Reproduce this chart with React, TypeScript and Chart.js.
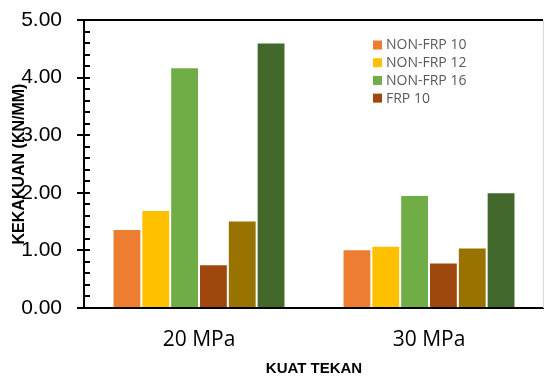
import React, { useEffect, useRef } from 'react';
import { Chart, registerables } from 'chart.js';

Chart.register(...registerables);

// ---- data ----
const categories = ['20 MPa', '30 MPa'];
const seriesNames = ['NON-FRP 10', 'NON-FRP 12', 'NON-FRP 16', 'FRP 10', 'FRP 12', 'FRP 16'];
const nonFrp10 = [1.37, 1.02];
const nonFrp12 = [1.70, 1.08];
const nonFrp16 = [4.18, 1.96];
const frp10 = [0.76, 0.79];
const frp12 = [1.52, 1.05];
const frp16 = [4.61, 2.01];
const legendShown = 4;
const yMin = 0;
const yMax = 5;
const yStep = 1;
const yMinorStep = 0.2;
const xTitle = 'KUAT TEKAN';
const yTitle = 'KEKAKUAN (KN/MM)';

// ---- styles ----
const colors = ['#ED7D31', '#FFC000', '#70AD47', '#9E480E', '#997300', '#43682B'];

const decorPlugin = {
  id: 'decor',
  afterDraw(chart: any) {
    const { ctx, chartArea } = chart;
    const y = chart.scales.y;
    ctx.save();
    // inner ticks (major + minor)
    ctx.strokeStyle = '#000';
    ctx.lineWidth = 2;
    const n = Math.round((yMax - yMin) / yMinorStep);
    for (let i = 0; i <= n; i++) {
      const v = yMin + i * yMinorStep;
      const py = Math.round(y.getPixelForValue(v));
      ctx.beginPath();
      ctx.moveTo(chartArea.left, py);
      ctx.lineTo(chartArea.left + 6, py);
      ctx.stroke();
    }
    // top border
    ctx.beginPath();
    ctx.moveTo(chartArea.left, chartArea.top);
    ctx.lineTo(chartArea.right - 1, chartArea.top);
    ctx.stroke();
    // right border (light)
    ctx.strokeStyle = '#d9d9d9';
    ctx.lineWidth = 1;
    ctx.beginPath();
    ctx.moveTo(chartArea.right - 0.5, chartArea.top);
    ctx.lineTo(chartArea.right - 0.5, chartArea.bottom);
    ctx.stroke();
    // legend
    ctx.font = '14px "Open Sans"';
    ctx.textBaseline = 'middle';
    ctx.textAlign = 'left';
    const ds = chart.data.datasets;
    for (let i = 0; i < Math.min(legendShown, ds.length); i++) {
      const cy = 45 + i * 17.7;
      ctx.fillStyle = ds[i].backgroundColor;
      ctx.fillRect(373, cy - 4.5, 9, 9);
      ctx.fillStyle = '#595959';
      ctx.fillText(ds[i].label, 386, cy + 0.5);
    }
    ctx.restore();
  },
};

export default function App() {
  const ref = useRef<HTMLCanvasElement | null>(null);
  useEffect(() => {
    if (!ref.current) return;
    const series = [nonFrp10, nonFrp12, nonFrp16, frp10, frp12, frp16];
    const chart = new Chart(ref.current, {
      type: 'bar',
      data: {
        labels: categories,
        datasets: series.map((d, i) => ({
          label: seriesNames[i],
          data: d,
          backgroundColor: colors[i],
          borderColor: 'rgba(255,255,255,0.45)',
          borderWidth: { top: 1, left: 1, right: 1, bottom: 0 },
          categoryPercentage: 0.752,
          barPercentage: 1,
        })),
      },
      options: {
        responsive: false,
        animation: false,
        layout: { padding: { top: 20, right: 0, left: 0, bottom: 0 } },
        plugins: { legend: { display: false }, tooltip: { enabled: false } },
        scales: {
          x: {
            grid: { display: false, drawTicks: false },
            border: { display: true, color: '#000', width: 2 },
            ticks: {
              color: '#000',
              padding: 19,
              font: { family: '"Open Sans"', size: 21 },
            },
            title: {
              display: true,
              text: xTitle,
              color: '#000',
              font: { family: '"Liberation Sans"', size: 15, weight: 'bold' },
              padding: { top: 0, bottom: 0 },
            },
            afterFit(scale: any) {
              scale.height = 70;
              scale.paddingLeft = 0;
              scale.paddingRight = 0;
            },
          },
          y: {
            min: yMin,
            max: yMax,
            grid: {
              display: true,
              drawOnChartArea: false,
              drawTicks: true,
              tickLength: 7,
              color: '#000',
              lineWidth: 2,
            },
            border: { display: true, color: '#000', width: 2 },
            ticks: {
              stepSize: yStep,
              color: '#000',
              padding: 15,
              font: { family: '"Liberation Sans"', size: 21 },
              callback: (v: any) => Number(v).toFixed(2),
            },
            title: {
              display: true,
              text: yTitle,
              color: '#000',
              font: { family: '"Liberation Sans"', size: 16, weight: 'bold' },
              padding: { top: 10, bottom: 0 },
            },
            afterFit(scale: any) {
              scale.width = 84;
              scale.paddingTop = 0;
              scale.paddingBottom = 0;
            },
          },
        },
      },
      plugins: [decorPlugin],
    } as any);
    return () => chart.destroy();
  }, []);
  return (
    <div style={{ position: 'fixed', left: 0, top: 0, width: 544, height: 378, background: '#fff' }}>
      <canvas ref={ref} width={544} height={378} />
    </div>
  );
}
